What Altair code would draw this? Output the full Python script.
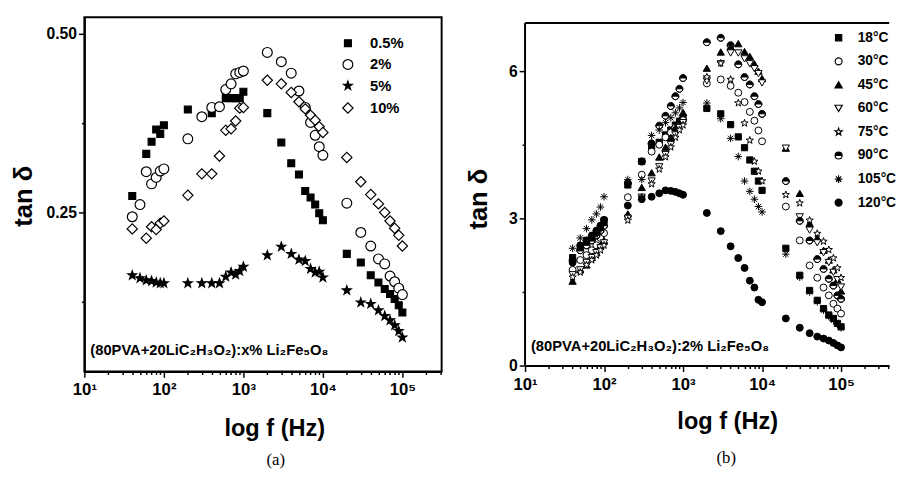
import altair as alt
import pandas as pd

FONT = "Liberation Sans, Arial, sans-serif"
SERIF = "Liberation Serif, Times New Roman, serif"

FREQ = [40, 50, 60, 70, 80, 90, 100, 200, 300, 400, 500, 600, 700, 800, 900, 1000,
        2000, 3000, 4000, 5000, 6000, 7000, 8000, 9000, 10000,
        20000, 30000, 40000, 50000, 60000, 70000, 80000, 90000, 100000]

# ---------------- panel (a) : tan delta for x% Li2Fe5O8 ----------------
A_LABELS = ["0.5%", "2%", "5%", "10%"]
A_05 = [0.273, None, 0.332, 0.349, 0.366, 0.360, 0.372, 0.394, None, 0.389, None, 0.410, 0.410, 0.410, 0.410, 0.419,
        0.389, 0.348, 0.319, 0.303, 0.280, 0.271, 0.261, 0.249, 0.239,
        0.192, 0.180, 0.162, 0.152, 0.143, 0.136, 0.129, 0.120, 0.110]
A_2 = [0.244, 0.261, 0.307, 0.290, 0.299, 0.308, 0.311, 0.353, 0.384, 0.397, 0.398, 0.422, 0.430, 0.444, 0.446, 0.448,
       0.474, 0.461, 0.445, 0.420, 0.397, 0.376, 0.358, 0.342, 0.330,
       0.263, 0.222, 0.203, 0.185, 0.178, 0.161, 0.153, 0.144, 0.135]
A_5 = [0.162, 0.158, 0.155, 0.154, 0.152, 0.151, 0.151, 0.151, 0.151, 0.151, 0.151, 0.160, 0.166, 0.163, 0.168, 0.174,
       0.190, 0.202, 0.192, 0.184, 0.182, 0.171, 0.166, 0.167, 0.159,
       0.141, 0.124, 0.122, 0.113, 0.105, 0.099, 0.092, 0.084, 0.075]
A_10 = [0.227, None, 0.214, 0.230, 0.226, 0.235, 0.238, 0.274, 0.304, 0.304, 0.329, 0.365, 0.367, 0.378, 0.396, 0.397,
        0.435, 0.430, 0.418, 0.405, 0.395, 0.386, 0.379, 0.370, 0.362,
        0.327, 0.293, 0.275, 0.262, 0.250, 0.238, 0.228, 0.218, 0.203]

# ---------------- panel (b) : tan delta at temperatures ----------------
B_LABELS = ["18°C", "30°C", "45°C", "60°C", "75°C", "90°C", "105°C", "120°C"]
B_18 = [2.20, 2.40, 2.55, 2.60, 2.70, 2.80, 2.95, 3.68, 4.16, 4.46, 4.55, 4.70, 4.80, 4.90, 4.98, 5.05,
        5.24, 5.13, 4.91, 4.66, 4.44, 4.19, 3.96, 3.76, 3.57,
        2.39, 1.84, 1.53, 1.33, 1.16, 1.03, 0.96, 0.86, 0.79]
B_30 = [1.95, 2.15, 2.25, 2.35, 2.45, 2.60, 2.70, 3.43, 3.89, 4.36, 4.50, 4.65, 4.75, 4.85, 4.92, 5.00,
        5.75, 5.83, 5.70, 5.56, 5.37, 5.17, 4.99, 4.79, 4.57,
        3.24, 2.55, 2.04, 1.79, 1.59, 1.43, 1.26, 1.16, 1.06]
B_45 = [1.72, 1.95, 2.05, 2.20, 2.30, 2.45, 2.55, 3.09, 3.63, 3.93, 4.25, 4.45, 4.65, 4.85, 5.00, 5.16,
        6.06, 6.39, 6.50, 6.56, 6.40, 6.30, 6.15, 6.00, 5.85,
        4.43, 3.51, 2.90, 2.60, 2.35, 2.15, 1.95, 1.75, 1.52]
B_60 = [1.85, 1.95, 2.10, 2.20, 2.30, 2.40, 2.50, 3.00, 3.43, 3.76, 4.05, 4.30, 4.50, 4.70, 4.85, 4.95,
        5.80, 6.15, 6.37, 6.37, 6.25, 6.15, 6.05, 5.95, 5.76,
        4.43, 3.03, 2.76, 2.50, 2.30, 2.10, 1.90, 1.75, 1.60]
B_75 = [1.80, 1.90, 2.05, 2.15, 2.25, 2.35, 2.45, 2.96, 3.43, 3.70, 4.00, 4.25, 4.45, 4.65, 4.80, 4.90,
        5.88, 6.16, 5.83, 5.35, 4.94, 4.59, 4.16, 3.96, 3.76,
        3.48, 3.31, 2.96, 2.69, 2.53, 2.36, 2.19, 1.99, 1.79]
B_90 = [2.15, 2.35, 2.45, 2.55, 2.65, 2.75, 2.85, 3.72, 4.16, 4.53, 4.89, 5.09, 5.29, 5.49, 5.64, 5.86,
        6.59, 6.68, 6.53, 6.14, 5.88, 5.73, 5.49, 5.33, 5.13,
        3.76, 2.95, 2.55, 2.17, 1.97, 1.77, 1.63, 1.43, 1.36]
B_105 = [2.39, 2.60, 2.79, 2.97, 3.09, 3.23, 3.44, 3.79, 3.79, 4.69, 4.80, 4.95, 5.05, 5.15, 5.25, 5.36,
         5.35, 5.03, 4.63, 4.26, 3.76, 3.55, 3.39, 3.24, 3.13,
         2.27, 1.80, 1.50, 1.30, 1.13, 1.00, 0.92, 0.84, 0.77]
B_120 = [2.10, 2.45, 2.55, 2.65, 2.75, 2.85, 2.97, 3.26, 3.39, 3.44, 3.51, 3.57, 3.56, 3.54, 3.51, 3.48,
         3.11, 2.74, 2.43, 2.19, 1.99, 1.73, 1.59, 1.34, 1.29,
         0.96, 0.77, 0.66, 0.59, 0.55, 0.51, 0.46, 0.41, 0.37]

ANN_A = "(80PVA+20LiC\u2082H\u2083O\u2082):x% Li\u2082Fe\u2085O\u2088"
ANN_B = "(80PVA+20LiC\u2082H\u2083O\u2082):2% Li\u2082Fe\u2085O\u2088"

# symbol paths
STAR = "M0,-1L0.235,-0.324L0.951,-0.309L0.38,0.124L0.588,0.809L0,0.4L-0.588,0.809L-0.38,0.124L-0.951,-0.309L-0.235,-0.324Z"
HALF = "M-1,0A1,1,0,0,1,1,0Z M-1,0A1,1,0,0,0,1,0A1,1,0,0,1,-1,0Z"
ASTER = "M-1,0L1,0M0,-1L0,1M-0.7,-0.7L0.7,0.7M-0.7,0.7L0.7,-0.7"

A_SHAPES = ["square", "circle", STAR, "diamond"]
A_FILLS = ["black", "white", "black", "white"]
A_SIZES = [49, 100, 90, 110]

B_SHAPES = ["square", "circle", "triangle-up", "triangle-down", STAR, HALF, ASTER, "circle"]
B_FILLS = ["black", "white", "black", "white", "white", "black", "black", "black"]
B_SIZES = [40, 50, 55, 55, 60, 50, 60, 50]


def long_table(labels, series):
    rows = []
    for lab, vals in zip(labels, series):
        for f, v in zip(FREQ, vals):
            if v is not None:
                rows.append({"f": f, "v": v, "s": lab})
    return pd.DataFrame(rows)


df_a = long_table(A_LABELS, [A_05, A_2, A_5, A_10])
df_b = long_table(B_LABELS, [B_18, B_30, B_45, B_60, B_75, B_90, B_105, B_120])

# geometry
WA, HA = 364, 361
WB, HB = 371, 355
XMAX_A = 10 ** (1 + WA / 81.0)
XMAX_B = 10 ** (1 + WB / 80.5)
YA_TOP = 0.5 + 17 / 728.0
YA_BOT = YA_TOP - HA / 728.0
YB_MAX = HB / 50.0
YB_FRAME = 6.98


def xticks(xmax):
    out = []
    for e in range(1, 6):
        for m in range(1, 10):
            v = m * 10 ** e
            if v <= xmax:
                out.append(v)
    return out


XLAB = ("datum.value == 10 ? '10\u00b9' : datum.value == 100 ? '10\u00b2' : "
        "datum.value == 1000 ? '10\u00b3' : datum.value == 10000 ? '10\u2074' : "
        "datum.value == 100000 ? '10\u2075' : ''")
XMAJOR = "indexof([10, 100, 1000, 10000, 100000], datum.value) >= 0"


def xaxis(values, tx, ty):
    return alt.Axis(
        values=values, labelExpr=XLAB,
        tickSize={"condition": {"test": XMAJOR, "value": 6}, "value": 3},
        tickColor="black", tickWidth=1.5, domainColor="black", domainWidth=2,
        labelFont=FONT, labelFontSize=17, labelFontWeight="bold", labelColor="black",
        labelPadding=5, labelOverlap=False, labelFlush=False, grid=False,
        title="log f (Hz)", titleFont=FONT, titleFontSize=24, titleFontWeight="bold",
        titleColor="black", titleX=tx, titleY=ty, titleAlign="center", titleBaseline="alphabetic",
    )


def yaxis(values, label_expr, major_test, tx, ty, domain):
    return alt.Axis(
        values=values, labelExpr=label_expr,
        tickSize={"condition": {"test": major_test, "value": 6}, "value": 3},
        tickColor="black", tickWidth=1.5, domain=domain, domainColor="black", domainWidth=2,
        labelFont=FONT, labelFontSize=16, labelFontWeight="bold", labelColor="black",
        labelPadding=2, labelOverlap=False, grid=False,
        title="tan \u03b4", titleFont=FONT, titleFontSize=26, titleFontWeight="bold",
        titleColor="black", titleX=tx, titleY=ty, titleAngle=270, titleAlign="center",
        titleBaseline="middle",
    )


def legend(lx, ly, row_pad, lab_off, fs):
    return alt.Legend(
        title=None, orient="none", legendX=lx, legendY=ly, padding=0,
        labelFont=FONT, labelFontSize=fs, labelFontWeight="bold", labelColor="black",
        rowPadding=row_pad, labelOffset=lab_off,
        symbolStrokeWidth=1.2, symbolOpacity=1,
    )


# ---------------- build panel (a) ----------------
leg_a = legend(261, 19, 5.7, 15, 15)
xs_a = alt.Scale(type="log", domain=[10, XMAX_A], nice=False)
ys_a = alt.Scale(domain=[YA_BOT, YA_TOP], nice=False, zero=False)

pts_a = alt.Chart(df_a).mark_point(filled=True, opacity=1, strokeWidth=1.2).encode(
    x=alt.X("f:Q", scale=xs_a, axis=xaxis(xticks(XMAX_A), 193.5, 65)),
    y=alt.Y("v:Q", scale=ys_a, axis=yaxis([0.125, 0.25, 0.375, 0.5],
                                          "datum.value == 0.25 ? '0.25' : datum.value == 0.5 ? '0.50' : ''",
                                          "datum.value == 0.25 || datum.value == 0.5", -62, 182, True)),
    shape=alt.Shape("s:N", scale=alt.Scale(domain=A_LABELS, range=A_SHAPES), legend=leg_a),
    fill=alt.Fill("s:N", scale=alt.Scale(domain=A_LABELS, range=A_FILLS), legend=leg_a),
    stroke=alt.Stroke("s:N", scale=alt.Scale(domain=A_LABELS, range=["black"] * len(A_LABELS)), legend=leg_a),
    size=alt.Size("s:N", scale=alt.Scale(type="ordinal", domain=A_LABELS, range=A_SIZES), legend=leg_a),
)

ann_a = alt.Chart(pd.DataFrame({"t": [ANN_A]})).mark_text(
    align="left", baseline="middle", font=FONT, fontSize=15, fontWeight="bold", color="black"
).encode(x=alt.value(6), y=alt.value(339), text="t:N")

cap_a = alt.Chart(pd.DataFrame({"t": ["(a)"]})).mark_text(
    align="center", baseline="middle", font=SERIF, fontSize=17, color="black"
).encode(x=alt.value(195), y=alt.value(451), text="t:N")

panel_a = alt.layer(pts_a, ann_a, cap_a).properties(
    width=WA, height=HA, view=alt.ViewBackground(stroke="black", strokeWidth=2)
)

# ---------------- build panel (b) ----------------
leg_b = legend(312.5, 14, 10, 12.5, 14)
xs_b = alt.Scale(type="log", domain=[10, XMAX_B], nice=False)
ys_b = alt.Scale(domain=[0, YB_MAX], nice=False, zero=False)

pts_b = alt.Chart(df_b).mark_point(filled=True, opacity=1, strokeWidth=1).encode(
    x=alt.X("f:Q", scale=xs_b, axis=xaxis(xticks(XMAX_B), 206, 64)),
    y=alt.Y("v:Q", scale=ys_b, axis=yaxis([0, 1.5, 3, 4.5, 6],
                                          "datum.value % 3 == 0 ? format(datum.value, 'd') : ''",
                                          "datum.value % 3 == 0", -47, 185, False)),
    shape=alt.Shape("s:N", scale=alt.Scale(domain=B_LABELS, range=B_SHAPES), legend=leg_b),
    fill=alt.Fill("s:N", scale=alt.Scale(domain=B_LABELS, range=B_FILLS), legend=leg_b),
    stroke=alt.Stroke("s:N", scale=alt.Scale(domain=B_LABELS, range=["black"] * len(B_LABELS)), legend=leg_b),
    size=alt.Size("s:N", scale=alt.Scale(type="ordinal", domain=B_LABELS, range=B_SIZES), legend=leg_b),
)

frame_top = alt.Chart(pd.DataFrame({"v": [YB_FRAME]})).mark_rule(color="black", strokeWidth=2).encode(
    y=alt.Y("v:Q"), x=alt.value(0), x2=alt.value(WB)
)
frame_left = alt.Chart(pd.DataFrame({"v": [0.0], "v2": [YB_FRAME]})).mark_rule(color="black", strokeWidth=2).encode(
    x=alt.value(0), y=alt.Y("v:Q"), y2="v2:Q"
)

ann_b = alt.Chart(pd.DataFrame({"t": [ANN_B]})).mark_text(
    align="left", baseline="middle", font=FONT, fontSize=15, fontWeight="bold", color="black"
).encode(x=alt.value(6), y=alt.value(335), text="t:N")

cap_b = alt.Chart(pd.DataFrame({"t": ["(b)"]})).mark_text(
    align="center", baseline="middle", font=SERIF, fontSize=17, color="black"
).encode(x=alt.value(205), y=alt.value(449), text="t:N")

panel_b = alt.layer(pts_b, frame_top, frame_left, ann_b, cap_b).properties(
    width=WB, height=HB, view=alt.ViewBackground(stroke="transparent")
)

chart = alt.hconcat(panel_a, panel_b, spacing=85, bounds="flush").resolve_scale(
    x="independent", y="independent", shape="independent", fill="independent",
    stroke="independent", size="independent"
).resolve_legend(
    shape="independent", fill="independent", stroke="independent", size="independent"
).properties(
    padding={"left": 10, "top": 12, "right": 0, "bottom": 0},
    background="white",
).configure_view(stroke="transparent")

chart.save("out.html", embed_options={"renderer": "svg", "actions": False})
